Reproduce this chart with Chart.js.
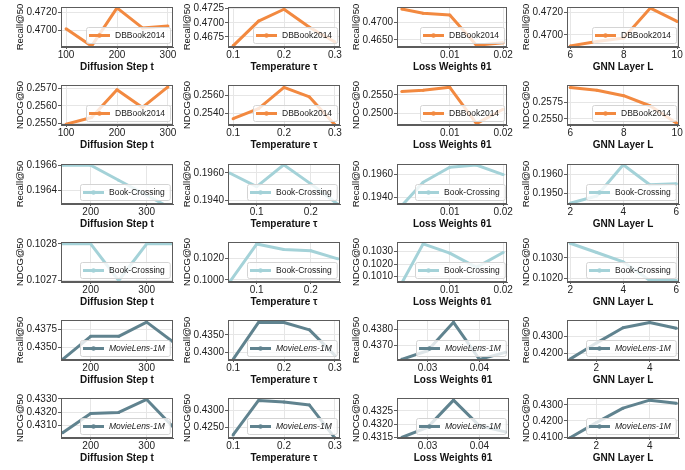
<!DOCTYPE html>
<html>
<head>
<meta charset="utf-8">
<script src="https://cdn.jsdelivr.net/npm/chart.js@4.4.0/dist/chart.umd.min.js"></script>
<style>
  html, body { margin: 0; padding: 0; background: #fff; }
  #grid { position: relative; width: 685px; height: 470px; overflow: hidden; }
  .cell { position: absolute; width: 174px; height: 77px; }
</style>
</head>
<body>
<div id="grid"></div>
<script>
'use strict';

// ── x values (hyper-parameter sweeps) ────────────────
const stepA  = [100, 150, 200, 250, 300];
const stepB  = [150, 200, 250, 300, 350];
const tempA  = [0.1, 0.15, 0.2, 0.25, 0.3];
const tempB  = [0.05, 0.1, 0.15, 0.2, 0.25];
const lossA  = [0.001, 0.005, 0.01, 0.015, 0.02];
const lossB  = [0.025, 0.03, 0.035, 0.04, 0.045];
const layerA = [6, 7, 8, 9, 10];
const layerB = [2, 3, 4, 5, 6];
const layerC = [1, 2, 3, 4, 5];

// ── x tick labels ────────────────────────────────────
const stepTicksA  = [100, 200, 300];
const stepTicksB  = [200, 300];
const tempTicksA  = [0.1, 0.2, 0.3];
const tempTicksB  = [0.1, 0.2];
const lossTicksA  = [0.01, 0.02];
const lossTicksB  = [0.03, 0.04];
const layerTicksA = [6, 8, 10];
const layerTicksB = [2, 4, 6];
const layerTicksC = [2, 4];

// ── DBBook2014 ───────────────────────────────────────
const dbRecallStep  = [0.4702, 0.4683, 0.4725, 0.4703, 0.4705];
const dbRecallTemp  = [0.4659, 0.4703, 0.4724, 0.4692, 0.4666];
const dbRecallLoss  = [0.4739, 0.4727, 0.4722, 0.4634, 0.4641];
const dbRecallLayer = [0.4690, 0.4694, 0.4697, 0.4724, 0.4712];
const dbNdcgStep    = [0.25495, 0.25533, 0.25693, 0.25591, 0.25709];
const dbNdcgTemp    = [0.25341, 0.25455, 0.25693, 0.25586, 0.25272];
const dbNdcgLoss    = [0.25592, 0.25625, 0.25708, 0.24717, 0.25108];
const dbNdcgLayer   = [0.25973, 0.25932, 0.25850, 0.25695, 0.25432];

// ── Book-Crossing ────────────────────────────────────
const bxRecallStep  = [0.19660, 0.19660, 0.19648, 0.19636, 0.19624];
const bxRecallTemp  = [0.1960, 0.1950, 0.1966, 0.1952, 0.1937];
const bxRecallLoss  = [0.1933, 0.19533, 0.19664, 0.19683, 0.1960];
const bxRecallLayer = [0.19445, 0.19484, 0.19653, 0.19545, 0.1955];
const bxNdcgStep    = [0.1028, 0.1028, 0.1027, 0.1028, 0.1028];
const bxNdcgTemp    = [0.0998, 0.10331, 0.1028, 0.10269, 0.10194];
const bxNdcgLoss    = [0.1005, 0.10362, 0.10288, 0.10175, 0.10293];
const bxNdcgLayer   = [0.10371, 0.10326, 0.1028, 0.10189, 0.10189];

// ── MovieLens-1M ─────────────────────────────────────
const mlRecallStep  = [0.43342, 0.43654, 0.43654, 0.43846, 0.43562];
const mlRecallTemp  = [0.42798, 0.43851, 0.43851, 0.4364, 0.42912];
const mlRecallLoss  = [0.43615, 0.43668, 0.43843, 0.43615, 0.43658];
const mlRecallLayer = [0.41636, 0.4260, 0.43509, 0.43818, 0.43473];
const mlNdcgStep    = [0.43046, 0.4319, 0.43199, 0.43296, 0.43078];
const mlNdcgTemp    = [0.42273, 0.43291, 0.43245, 0.43155, 0.4218];
const mlNdcgLoss    = [0.4315, 0.43188, 0.43291, 0.43194, 0.43171];
const mlNdcgLayer   = [0.40943, 0.41895, 0.4279, 0.43286, 0.43095];

// ── y tick labels ────────────────────────────────────
const yt = {
  dbRecallStep:  [0.4700, 0.4720],
  dbRecallTemp:  [0.4675, 0.4700, 0.4725],
  dbRecallLoss:  [0.4650, 0.4700],
  dbRecallLayer: [0.4700, 0.4720],
  dbNdcgStep:    [0.2550, 0.2560, 0.2570],
  dbNdcgTemp:    [0.2540, 0.2560],
  dbNdcgLoss:    [0.2500, 0.2550],
  dbNdcgLayer:   [0.2550, 0.2575],
  bxRecallStep:  [0.1964, 0.1966],
  bxRecallTemp:  [0.1940, 0.1960],
  bxRecallLoss:  [0.1940, 0.1960],
  bxRecallLayer: [0.1950, 0.1960],
  bxNdcgStep:    [0.1027, 0.1028],
  bxNdcgTemp:    [0.1000, 0.1020],
  bxNdcgLoss:    [0.1010, 0.1020, 0.1030],
  bxNdcgLayer:   [0.1020, 0.1030],
  mlRecallStep:  [0.4350, 0.4375],
  mlRecallTemp:  [0.4300, 0.4350],
  mlRecallLoss:  [0.4370, 0.4380],
  mlRecallLayer: [0.4200, 0.4300],
  mlNdcgStep:    [0.4310, 0.4320, 0.4330],
  mlNdcgTemp:    [0.4250, 0.4300],
  mlNdcgLoss:    [0.4315, 0.4320, 0.4325],
  mlNdcgLayer:   [0.4100, 0.4200, 0.4300],
};

const ORANGE = 'rgb(242,137,64)';
const TEAL   = 'rgb(164,210,216)';
const SLATE  = 'rgb(96,131,143)';

const X_TITLES = ['Diffusion Step t', 'Temperature \u03C4', 'Loss Weights \u03B81', 'GNN Layer L'];

// rows: dataset, metric, colour, per-column [x, xTicks, xRange, y, yTicks key, yRange]
const rows = [
  { name: 'DBBook2014', metric: 'Recall@50', color: ORANGE, italic: false, cols: [
    [stepA,  stepTicksA,  [90, 310],        dbRecallStep,  'dbRecallStep',  [0.4682, 0.4726]],
    [tempA,  tempTicksA,  [0.09, 0.31],     dbRecallTemp,  'dbRecallTemp',  [0.4657, 0.4728]],
    [lossA,  lossTicksA,  [0.0001, 0.0208], dbRecallLoss,  'dbRecallLoss',  [0.4629, 0.4745]],
    [layerA, layerTicksA, [5.88, 10.07],    dbRecallLayer, 'dbRecallLayer', [0.4689, 0.4725]],
  ]},
  { name: 'DBBook2014', metric: 'NDCG@50', color: ORANGE, italic: false, cols: [
    [stepA,  stepTicksA,  [90, 310],        dbNdcgStep,  'dbNdcgStep',  [0.2549, 0.2572]],
    [tempA,  tempTicksA,  [0.09, 0.31],     dbNdcgTemp,  'dbNdcgTemp',  [0.2527, 0.2572]],
    [lossA,  lossTicksA,  [0.0001, 0.0208], dbNdcgLoss,  'dbNdcgLoss',  [0.2468, 0.2577]],
    [layerA, layerTicksA, [5.88, 10.07],    dbNdcgLayer, 'dbNdcgLayer', [0.2541, 0.2601]],
  ]},
  { name: 'Book-Crossing', metric: 'Recall@50', color: TEAL, italic: false, cols: [
    [stepB,  stepTicksB,  [147, 347],       bxRecallStep,  'bxRecallStep',  [0.19629, 0.19661]],
    [tempB,  tempTicksB,  [0.047, 0.254],   bxRecallTemp,  'bxRecallTemp',  [0.19372, 0.19666]],
    [lossA,  lossTicksA,  [0.0001, 0.0208], bxRecallLoss,  'bxRecallLoss',  [0.19344, 0.19692]],
    [layerB, layerTicksB, [1.88, 6.1],      bxRecallLayer, 'bxRecallLayer', [0.19441, 0.19657]],
  ]},
  { name: 'Book-Crossing', metric: 'NDCG@50', color: TEAL, italic: false, cols: [
    [stepB,  stepTicksB,  [147, 347],       bxNdcgStep,  'bxNdcgStep',  [0.102696, 0.102805]],
    [tempB,  tempTicksB,  [0.047, 0.254],   bxNdcgTemp,  'bxNdcgTemp',  [0.0998, 0.1035]],
    [lossA,  lossTicksA,  [0.0001, 0.0208], bxNdcgLoss,  'bxNdcgLoss',  [0.10058, 0.10377]],
    [layerB, layerTicksB, [1.88, 6.1],      bxNdcgLayer, 'bxNdcgLayer', [0.10182, 0.10377]],
  ]},
  { name: 'MovieLens-1M', metric: 'Recall@50', color: SLATE, italic: true, cols: [
    [stepB,  stepTicksB,  [147, 347],       mlRecallStep,  'mlRecallStep',  [0.43333, 0.43875]],
    [tempA,  tempTicksA,  [0.09, 0.31],     mlRecallTemp,  'mlRecallTemp',  [0.42781, 0.43921]],
    [lossB,  lossTicksB,  [0.0241, 0.0457], mlRecallLoss,  'mlRecallLoss',  [0.43611, 0.43857]],
    [layerC, layerTicksC, [0.9, 5.1],       mlRecallLayer, 'mlRecallLayer', [0.4160, 0.43964]],
  ]},
  { name: 'MovieLens-1M', metric: 'NDCG@50', color: SLATE, italic: true, cols: [
    [stepB,  stepTicksB,  [147, 347],       mlNdcgStep,  'mlNdcgStep',  [0.43007, 0.43307]],
    [tempA,  tempTicksA,  [0.09, 0.31],     mlNdcgTemp,  'mlNdcgTemp',  [0.42182, 0.43364]],
    [lossB,  lossTicksB,  [0.0241, 0.0457], mlNdcgLoss,  'mlNdcgLoss',  [0.43148, 0.43299]],
    [layerC, layerTicksC, [0.9, 5.1],       mlNdcgLayer, 'mlNdcgLayer', [0.4094, 0.43419]],
  ]},
];

// ── layout of the grid (plot-area corners) ───────────
const PLOT_LEFT = [61, 228, 397, 567];
const PLOT_TOP  = [4, 82, 161, 239, 317, 395];
const Y_AXIS_W  = 58;
const X_AXIS_H  = 30;
const PAD_TOP   = 4;

const FONT = 'Liberation Sans, Arial, sans-serif';

// ── plugins: frame round plot + legend inside plot ───
const frame = {
  id: 'frame',
  afterDraw(chart) {
    const { ctx, chartArea: a } = chart;
    ctx.save();
    ctx.strokeStyle = '#5c5c5c';
    ctx.lineWidth = 1;
    ctx.strokeRect(Math.round(a.left) + 0.5, Math.round(a.top) + 0.5,
                   Math.round(a.right - a.left) - 1, Math.round(a.bottom - a.top) - 1);
    ctx.restore();
  }
};

const boxLegend = {
  id: 'boxLegend',
  afterDatasetsDraw(chart, args, opts) {
    const { ctx, chartArea: a } = chart;
    const ds = chart.data.datasets[0];
    ctx.save();
    ctx.font = opts.font;
    const tw = ctx.measureText(ds.label).width;
    const h = 16, w = 3 + 21 + 5 + tw + 5;
    const x = Math.round(a.right - 3 - w), y = Math.round(a.bottom - 4 - h);
    ctx.beginPath();
    ctx.roundRect(x + 0.5, y + 0.5, w, h, 2);
    ctx.fillStyle = 'rgba(255,255,255,0.8)';
    ctx.fill();
    ctx.strokeStyle = '#d4d4d4';
    ctx.lineWidth = 1;
    ctx.stroke();
    const cy = y + h / 2 + 0.5;
    ctx.strokeStyle = ds.borderColor;
    ctx.lineWidth = 3;
    ctx.beginPath();
    ctx.moveTo(x + 3, cy);
    ctx.lineTo(x + 24, cy);
    ctx.stroke();
    ctx.fillStyle = ds.borderColor;
    ctx.beginPath();
    ctx.arc(x + 13.5, cy, 2.2, 0, Math.PI * 2);
    ctx.fill();
    ctx.fillStyle = '#1a1a1a';
    ctx.textBaseline = 'middle';
    ctx.fillText(ds.label, x + 29, cy + 0.5);
    ctx.restore();
  }
};

const fmtX = v => String(v);
const fmtY = v => v.toFixed(4);

const grid = document.getElementById('grid');

rows.forEach((row, r) => {
  row.cols.forEach((c, ci) => {
    const [xs, xTicks, xRange, ys, ytKey, yRange] = c;
    const div = document.createElement('div');
    div.className = 'cell';
    div.style.left = (PLOT_LEFT[ci] - Y_AXIS_W) + 'px';
    div.style.top  = (PLOT_TOP[r] - PAD_TOP) + 'px';
    const canvas = document.createElement('canvas');
    div.appendChild(canvas);
    grid.appendChild(div);

    new Chart(canvas.getContext('2d'), {
      type: 'line',
      data: {
        datasets: [{
          label: row.name,
          data: xs.map((x, i) => ({ x, y: ys[i] })),
          borderColor: row.color,
          backgroundColor: row.color,
          borderWidth: 3,
          borderJoinStyle: 'round',
          pointRadius: 1.5,
          pointBorderWidth: 0,
          tension: 0,
          clip: 0,
        }],
      },
      options: {
        responsive: true,
        maintainAspectRatio: false,
        animation: false,
        devicePixelRatio: 1,
        layout: { padding: { top: PAD_TOP, right: 4, left: 0, bottom: 0 } },
        plugins: {
          legend: { display: false },
          tooltip: { enabled: false },
          boxLegend: { font: (row.italic ? 'italic ' : '') + '8.5px ' + FONT },
        },
        scales: {
          x: {
            type: 'linear',
            min: xRange[0],
            max: xRange[1],
            afterBuildTicks: s => { s.ticks = xTicks.map(v => ({ value: v })); },
            afterFit: s => { s.height = X_AXIS_H; },
            ticks: { autoSkip: false, maxRotation: 0, padding: 0, color: '#222',
                     font: { family: FONT, size: 10 }, callback: fmtX },
            grid: { color: '#e6e6e6', tickColor: '#5c5c5c', tickLength: 2 },
            border: { color: '#5c5c5c' },
            title: { display: true, text: X_TITLES[ci], color: '#111',
                     font: { family: FONT, size: 10, weight: 'bold' },
                     padding: { top: 0, bottom: 4 } },
          },
          y: {
            type: 'linear',
            min: yRange[0],
            max: yRange[1],
            afterBuildTicks: s => { s.ticks = yt[ytKey].map(v => ({ value: v })); },
            afterFit: s => { s.width = Y_AXIS_W; },
            ticks: { autoSkip: false, padding: 1, color: '#222',
                     font: { family: FONT, size: 10 }, callback: fmtY },
            grid: { color: '#e6e6e6', tickColor: '#5c5c5c', tickLength: 3 },
            border: { color: '#5c5c5c' },
            title: { display: true, text: row.metric, color: '#111',
                     font: { family: FONT, size: 9.5 },
                     padding: { top: 12, bottom: 0 } },
          },
        },
      },
      plugins: [boxLegend, frame],
    });
  });
});
</script>
</body>
</html>
